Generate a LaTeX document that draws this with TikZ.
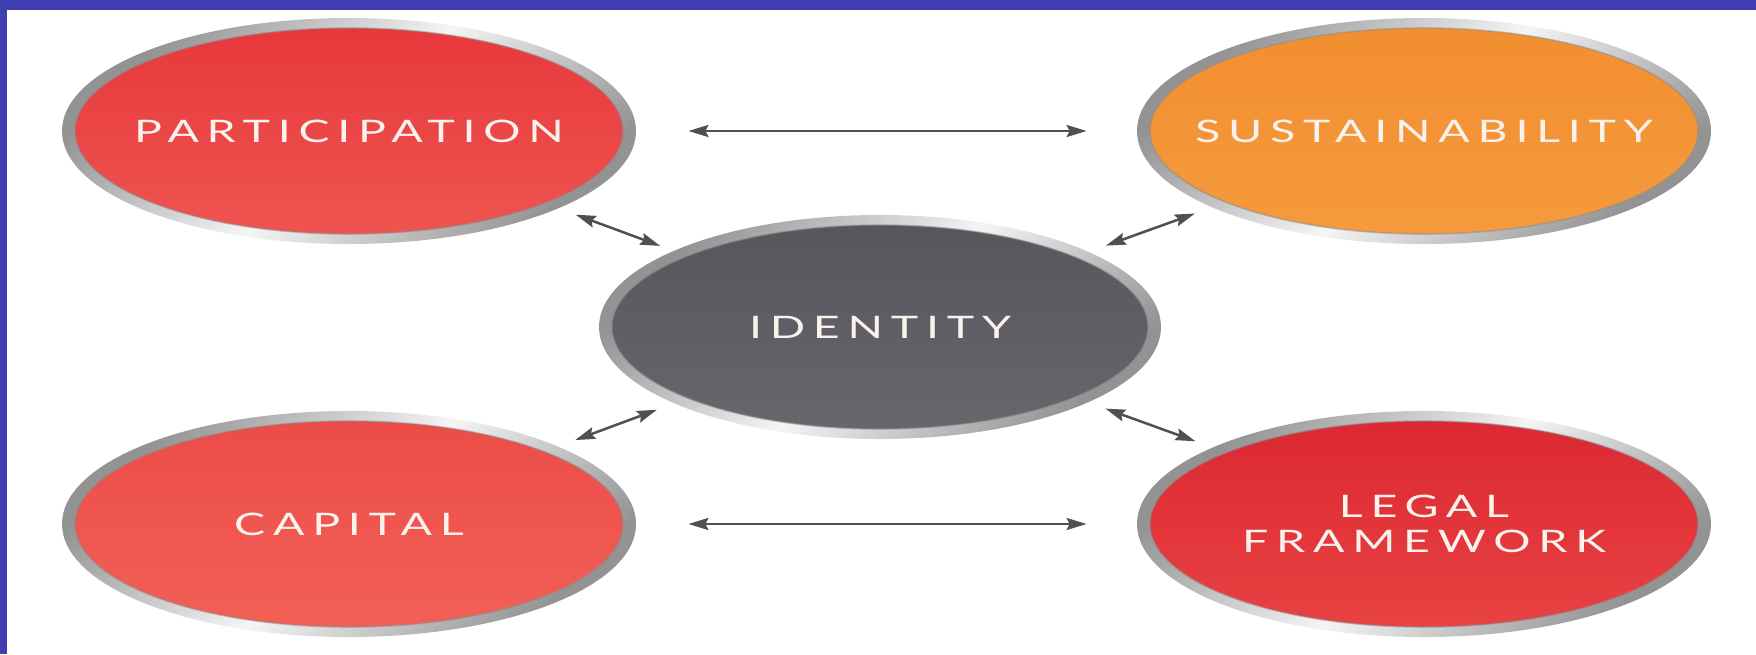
\documentclass[tikz,border=0pt]{standalone}
\usepackage{fontspec}
\newfontfamily\lab[FakeStretch=1.5,LetterSpace=25]{Lato}
\usetikzlibrary{shapes.geometric,arrows.meta}
\definecolor{bandblue}{RGB}{62,62,178}
\definecolor{txt}{RGB}{250,242,236}
\definecolor{arr}{RGB}{80,80,82}
\definecolor{parA}{RGB}{232,56,60}\definecolor{parB}{RGB}{238,84,80}
\definecolor{susA}{RGB}{242,142,48}\definecolor{susB}{RGB}{245,154,62}
\definecolor{idA}{RGB}{86,86,92}\definecolor{idB}{RGB}{102,102,108}
\definecolor{capA}{RGB}{236,76,72}\definecolor{capB}{RGB}{241,96,86}
\definecolor{legA}{RGB}{220,40,50}\definecolor{legB}{RGB}{232,66,66}
\newcommand{\zw}[1]{\makebox[0pt]{#1}}
\tikzset{
  rim/.style={ellipse, inner sep=0pt, minimum width=287pt, minimum height=113pt,
    top color=gray!85, bottom color=gray!85, middle color=gray!8, shading angle=45},
  disc/.style={ellipse, inner sep=0pt, minimum width=274pt, minimum height=103pt,
    draw=black!45, draw opacity=0.5, line width=0.8pt,
    text=txt, font=\lab\fontsize{15.5}{17.5}\selectfont, align=center},
  conn/.style={draw=arr, line width=1.25pt,
    {Stealth[length=10pt,width=6pt,inset=1.5pt]}-{Stealth[length=10pt,width=6pt,inset=1.5pt]}}
}
\begin{document}
\begin{tikzpicture}[x=0.5pt,y=-0.5pt]
\useasboundingbox (0,0) rectangle (1756,654);
\fill[white] (0,0) rectangle (1756,654);
\fill[bandblue] (0,0) rectangle (1756,10);
\fill[bandblue] (0,0) rectangle (7,654);

% rims
\node[rim] (pr) at (349,131) {};
\node[rim] (sr) at (1424,131) {};
\node[rim] (cr) at (349,524) {};
\node[rim] (lr) at (1424,524) {};
\node[rim, minimum width=281pt, minimum height=112pt] (ir) at (880,327) {};

% discs
\node[disc, top color=parA, bottom color=parB] (p) at (349,131) {\zw{PARTICIPATION}};
\node[disc, top color=susA, bottom color=susB] (s) at (1424,131) {\zw{SUSTAINABILITY}};
\node[disc, top color=capA, bottom color=capB] (c) at (349,524) {\zw{CAPITAL}};
\node[disc, top color=legA, bottom color=legB] (l) at (1424,524) {\zw{LEGAL}\\\zw{FRAMEWORK}};
\node[disc, top color=idA, bottom color=idB, minimum width=268pt, minimum height=102pt] (i) at (880,327) {\zw{IDENTITY}};

% connectors
\draw[conn, shorten <=26pt, shorten >=25pt] (pr) -- (sr);
\draw[conn, shorten <=26pt, shorten >=25pt] (cr) -- (lr);
\draw[conn, shorten <=9pt, shorten >=7pt] (pr) -- (ir);
\draw[conn, shorten <=9pt, shorten >=9pt] (sr) -- (ir);
\draw[conn, shorten <=9pt, shorten >=9pt] (cr) -- (ir);
\draw[conn, shorten <=9pt, shorten >=9pt] (lr) -- (ir);
\end{tikzpicture}
\end{document}
